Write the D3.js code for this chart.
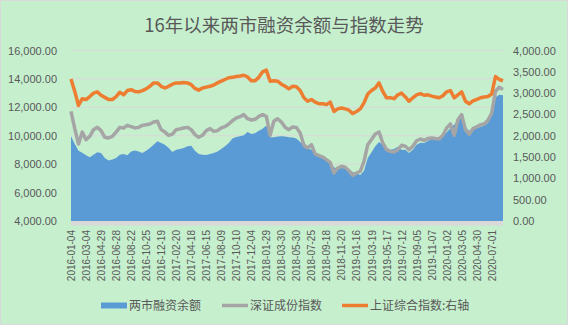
<!DOCTYPE html>
<html><head><meta charset="utf-8">
<script src="https://cdn.jsdelivr.net/npm/d3@7"></script>
<style>body{margin:0;background:#fff} svg{display:block}</style>
</head><body><svg id="c" width="568" height="325"></svg>
<script>
const title = "16年以来两市融资余额与指数走势";
const seriesNames = ["两市融资余额", "深证成份指数", "上证综合指数:右轴"];
const dateLabels = ["2016-01-04","2016-03-04","2016-04-29","2016-06-28","2016-08-22","2016-10-25","2016-12-19","2017-02-20","2017-04-18","2017-06-15","2017-08-09","2017-10-10","2017-12-04","2018-01-29","2018-03-30","2018-05-30","2018-07-25","2018-09-18","2018-11-20","2019-01-16","2019-03-19","2019-05-17","2019-07-12","2019-09-05","2019-11-07","2020-01-02","2020-03-05","2020-04-30","2020-07-01"];
const samplesPerLabel = 4;
// 两市融资余额 (left axis), sampled every 10 trading days
const marginBalance = [9960,9420,8950,8810,8620,8480,8670,8830,8790,8430,8250,8320,8430,8670,8720,8620,8900,8970,8900,8790,8950,9140,9370,9610,9490,9370,9140,8860,9020,
9070,9140,9260,9300,8950,8720,8670,8650,8720,8790,8900,9070,9260,9490,9800,9910,9960,10030,10270,10120,10170,10360,10500,10730,9890,9890,9940,9960,9940,9890,
9870,9800,9560,9370,9140,9020,8860,8670,8530,8360,8080,7780,7680,7780,7680,7570,7450,7360,7240,7540,8430,8830,9260,9560,9370,9140,9020,9070,9230,
9020,9020,8790,9020,9370,9510,9490,9630,9770,9750,9820,10010,10220,10550,10780,11130,11370,10620,10360,10430,10550,10620,10730,10900,11490,12710,12890,12850];
// 深证成份指数 (left axis)
const szIndex = [11720,10500,9420,10260,9720,9960,10430,10590,10360,9890,9840,9960,10260,10590,10550,10730,10640,10550,10590,10730,10780,10830,10970,11020,10430,10260,10030,10120,10430,
10480,10550,10590,10430,10080,9890,10030,10360,10500,10310,10360,10550,10640,10830,11060,11250,11340,11490,11200,11110,11160,11370,11490,11370,10030,11020,11200,10970,10590,10430,
10620,10590,10190,9330,9140,9370,8720,8600,8500,8320,8130,7380,7730,7850,7780,7540,7210,7380,7500,8200,9370,9730,10120,10260,9490,9020,8900,8860,9020,
9330,9260,9020,9260,9650,9770,9680,9800,9840,9800,9770,10030,10550,10830,10030,11130,11490,10430,10120,10500,10620,10780,10830,11090,11600,13130,13410,13250];
// 上证综合指数 (right axis)
const shIndex = [3330,3040,2710,2870,2850,2920,3000,3030,2950,2900,2850,2850,2920,3020,2960,3060,3080,3040,3030,3060,3100,3160,3240,3240,3160,3120,3160,3210,3240,
3240,3250,3240,3200,3110,3070,3120,3140,3160,3190,3240,3280,3320,3360,3370,3390,3400,3420,3380,3290,3290,3370,3500,3540,3280,3290,3280,3210,3160,3100,
3160,3150,3060,2890,2810,2850,2790,2750,2750,2730,2790,2570,2630,2650,2630,2600,2520,2570,2630,2770,2980,3060,3120,3240,3040,2890,2890,2870,2960,
3000,2910,2810,2890,2960,2990,2950,2960,2930,2910,2890,2940,3030,3060,2890,2960,3030,2810,2750,2820,2850,2890,2910,2920,2980,3390,3320,3290];
const leftTicks = [4000,6000,8000,10000,12000,14000,16000];
const rightTicks = [0,500,1000,1500,2000,2500,3000,3500,4000];

const colors = {bg:"#c6efce", blue:"#5b9bd5", gray:"#a5a5a5", orange:"#ed7d31", grid:"#d9d9d9", text:"#595959"};
const W = 568, H = 325;
const plot = {l:71, r:503, t:50.5, b:221};
const numFont = "'Liberation Sans', Arial, sans-serif";
const cjkFont = "'Noto Sans CJK SC', sans-serif";

const svg = d3.select("#c");
svg.append("rect").attr("x",0.5).attr("y",0.5).attr("width",W-1).attr("height",H-1)
  .attr("fill",colors.bg).attr("stroke","#d9d9d9");

const n = marginBalance.length;
const x = d3.scaleLinear().domain([0, n-1]).range([plot.l, plot.r]);
const yL = d3.scaleLinear().domain([4000,16000]).range([plot.b, plot.t]);
const yR = d3.scaleLinear().domain([0,4000]).range([plot.b, plot.t]);

// gridlines
svg.append("g").selectAll("line").data(leftTicks.slice(1)).join("line")
  .attr("x1",plot.l).attr("x2",plot.r).attr("y1",d=>yL(d)).attr("y2",d=>yL(d))
  .attr("stroke",colors.grid).attr("stroke-width",1);

// area
const idx = d3.range(n);
svg.append("path").datum(idx)
  .attr("d", d3.area().x(i=>x(i)).y0(yL(4000)).y1(i=>yL(marginBalance[i])))
  .attr("fill", colors.blue);
svg.append("path").datum(idx)
  .attr("d", d3.line().x(i=>x(i)).y(i=>yL(szIndex[i])))
  .attr("fill","none").attr("stroke",colors.gray).attr("stroke-width",3.5).attr("stroke-linejoin","round");
svg.append("path").datum(idx)
  .attr("d", d3.line().x(i=>x(i)).y(i=>yR(shIndex[i])))
  .attr("fill","none").attr("stroke",colors.orange).attr("stroke-width",3.5).attr("stroke-linejoin","round");

// bottom axis band
svg.append("rect").attr("x",plot.l).attr("y",plot.b).attr("width",plot.r-plot.l).attr("height",4.5)
  .attr("fill","#d9d9d9");

const fmt = d3.format(",.2f");
// left axis
const gl = svg.append("g").attr("transform",`translate(${plot.l},0)`)
  .call(d3.axisLeft(yL).tickValues(leftTicks).tickFormat(fmt).tickSize(0).tickPadding(14));
gl.select(".domain").remove();
gl.selectAll("text").attr("font-family",numFont).attr("font-size",11).attr("fill",colors.text);
// right axis
const gr = svg.append("g").attr("transform",`translate(${plot.r},0)`)
  .call(d3.axisRight(yR).tickValues(rightTicks).tickFormat(fmt).tickSize(0).tickPadding(10));
gr.select(".domain").remove();
gr.selectAll("text").attr("font-family",numFont).attr("font-size",11).attr("fill",colors.text);
// bottom axis labels
const tickIdx = dateLabels.map((d,k)=>k*samplesPerLabel);
const gb = svg.append("g").attr("transform",`translate(0,${plot.b})`)
  .call(d3.axisBottom(x).tickValues(tickIdx).tickFormat((d,k)=>dateLabels[k]).tickSize(0));
gb.select(".domain").remove();
gb.selectAll("text").attr("font-family",numFont).attr("font-size",10).attr("fill",colors.text)
  .attr("text-anchor","end").attr("transform","rotate(-90)").attr("x",-9).attr("y",0).attr("dy","0.35em");

// title
svg.append("text").attr("x",284).attr("y",32).attr("text-anchor","middle")
  .attr("font-family",cjkFont).attr("font-size",18.5).attr("fill",colors.text).text(title);

// legend
const leg = svg.append("g").attr("font-family",cjkFont).attr("font-size",12).attr("fill",colors.text);
const legItems = [
  {name:seriesNames[0], x:101, type:"rect", color:colors.blue},
  {name:seriesNames[1], x:222, type:"line", color:colors.gray},
  {name:seriesNames[2], x:342, type:"line", color:colors.orange}
];
const ly = 305.5;
legItems.forEach(it=>{
  if(it.type==="rect") leg.append("rect").attr("x",it.x).attr("y",ly-3).attr("width",26).attr("height",6).attr("fill",it.color);
  else leg.append("line").attr("x1",it.x).attr("x2",it.x+26).attr("y1",ly).attr("y2",ly).attr("stroke",it.color).attr("stroke-width",3.5);
  leg.append("text").attr("x",it.x+28).attr("y",ly).attr("dy","0.35em").text(it.name);
});
</script></body></html>
